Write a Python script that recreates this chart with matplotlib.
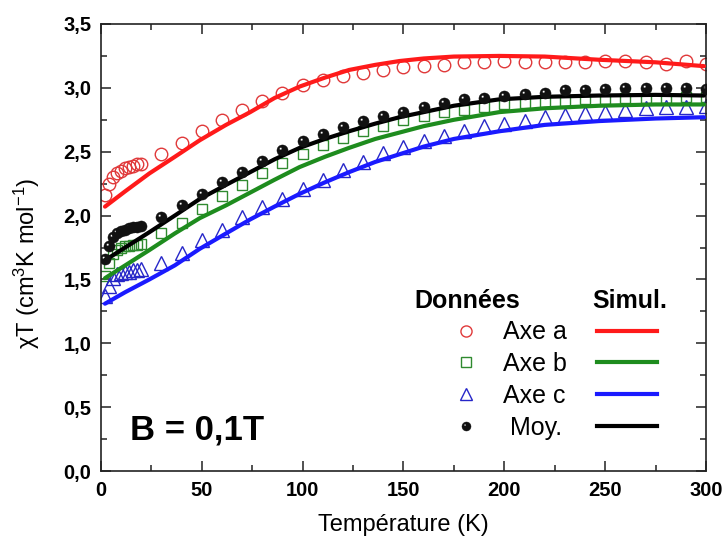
import numpy as np
import matplotlib
matplotlib.use("Agg")
import matplotlib.pyplot as plt
from matplotlib.lines import Line2D
from matplotlib.path import Path
from matplotlib.ticker import MultipleLocator, FuncFormatter

plt.rcParams['font.family'] = ['Liberation Sans', 'DejaVu Sans']
plt.rcParams['mathtext.fontset'] = 'custom'
plt.rcParams['mathtext.rm'] = 'Liberation Sans'
plt.rcParams['mathtext.it'] = 'Liberation Sans:italic'
plt.rcParams['mathtext.default'] = 'regular'

# ---------------- data ----------------
T_data = [2, 4, 6, 8, 10, 12, 14, 16, 18, 20,
          30, 40, 50, 60, 70, 80, 90, 100, 110, 120, 130, 140, 150, 160, 170, 180,
          190, 200, 210, 220, 230, 240, 250, 260, 270, 280, 290, 300]

axe_a = [2.16, 2.25, 2.30, 2.33, 2.35, 2.37, 2.38, 2.39, 2.40, 2.40,
         2.48, 2.57, 2.66, 2.75, 2.83, 2.90, 2.96, 3.02, 3.06, 3.09, 3.12, 3.14, 3.16, 3.17, 3.18, 3.20,
         3.20, 3.21, 3.20, 3.20, 3.20, 3.20, 3.21, 3.21, 3.20, 3.19, 3.21, 3.19]
axe_b = [1.53, 1.63, 1.70, 1.73, 1.75, 1.76, 1.76, 1.77, 1.77, 1.78,
         1.86, 1.94, 2.05, 2.15, 2.24, 2.33, 2.41, 2.48, 2.55, 2.61, 2.66, 2.70, 2.75, 2.78, 2.81, 2.83,
         2.85, 2.87, 2.88, 2.89, 2.90, 2.91, 2.91, 2.92, 2.92, 2.92, 2.93, 2.93]
axe_c = [1.37, 1.45, 1.51, 1.54, 1.55, 1.56, 1.56, 1.57, 1.57, 1.58,
         1.63, 1.71, 1.81, 1.89, 1.99, 2.07, 2.13, 2.21, 2.28, 2.36, 2.42, 2.49, 2.54, 2.58, 2.62, 2.66,
         2.70, 2.72, 2.74, 2.77, 2.79, 2.80, 2.81, 2.83, 2.84, 2.85, 2.85, 2.86]
moy = [1.66, 1.76, 1.83, 1.86, 1.88, 1.89, 1.90, 1.91, 1.91, 1.92,
       1.99, 2.08, 2.17, 2.26, 2.34, 2.43, 2.51, 2.58, 2.64, 2.69, 2.74, 2.78, 2.81, 2.85, 2.88, 2.91,
       2.92, 2.94, 2.95, 2.96, 2.98, 2.98, 2.99, 3.00, 3.00, 3.00, 3.00, 2.99]

T_sim = [2, 12, 24, 36.6, 49, 62, 74, 86, 98.5, 111, 123, 136, 148, 160, 175, 197.5, 220, 247, 275, 299]
sim_a = [2.07, 2.19, 2.33, 2.46, 2.59, 2.71, 2.81, 2.92, 3.01, 3.08, 3.14, 3.18, 3.21, 3.23, 3.245,
         3.25, 3.245, 3.22, 3.20, 3.17]
sim_b = [1.51, 1.61, 1.73, 1.86, 1.98, 2.08, 2.18, 2.28, 2.38, 2.46, 2.53, 2.60, 2.65, 2.70, 2.75,
         2.81, 2.84, 2.86, 2.87, 2.87]
sim_c = [1.31, 1.40, 1.50, 1.61, 1.74, 1.86, 1.97, 2.07, 2.17, 2.26, 2.34, 2.42, 2.48, 2.54, 2.60,
         2.66, 2.71, 2.74, 2.76, 2.77]
sim_moy = [1.65, 1.75, 1.87, 2.00, 2.13, 2.24, 2.34, 2.44, 2.53, 2.60, 2.66, 2.72, 2.77, 2.81, 2.86,
           2.91, 2.93, 2.94, 2.945, 2.94]

labels_data = ['Axe a', 'Axe b', 'Axe c', ' Moy.']

# ---------------- styles ----------------
c_red, c_green, c_blue, c_black = '#ff1a1a', '#1e8c1e', '#1a1aff', '#000000'
m_red, m_green, m_blue = '#e0393a', '#2f8a2f', '#2626c8'

# sphere marker (black disk with a small highlight hole)
th_o = np.linspace(0, 2 * np.pi, 60)
th_i = np.linspace(0, -2 * np.pi, 30)
outer = np.column_stack([np.cos(th_o), np.sin(th_o)])
inner = np.column_stack([-0.32 + 0.22 * np.cos(th_i), 0.32 + 0.22 * np.sin(th_i)])
verts = np.vstack([outer, outer[:1], inner, inner[:1]])
codes = ([Path.MOVETO] + [Path.LINETO] * (len(outer) - 1) + [Path.CLOSEPOLY] +
         [Path.MOVETO] + [Path.LINETO] * (len(inner) - 1) + [Path.CLOSEPOLY])
sphere = Path(verts, codes)

fig = plt.figure(figsize=(7.28, 5.38), dpi=100)
ax = fig.add_axes([0.1387, 0.1245, 0.8311, 0.8309])

ax.plot(T_data, axe_a, 'o', ms=9, mfc='none', mec=m_red, mew=1.0, zorder=2)
ax.plot(T_data, axe_b, 's', ms=7.5, mfc='none', mec=m_green, mew=1.0, zorder=2)
ax.plot(T_data, axe_c, '^', ms=10, mfc='none', mec=m_blue, mew=1.0, zorder=2)

ax.plot(T_sim, sim_a, '-', color=c_red, lw=3.0, zorder=3, solid_capstyle='round')
ax.plot(T_sim, sim_b, '-', color=c_green, lw=3.0, zorder=3, solid_capstyle='round')
ax.plot(T_sim, sim_c, '-', color=c_blue, lw=3.0, zorder=3, solid_capstyle='round')
ax.plot(T_sim, sim_moy, '-', color=c_black, lw=3.0, zorder=3, solid_capstyle='round')

ax.plot(T_data, moy, ls='none', marker=sphere, ms=8, mfc='#111111', mec='#111111', mew=0.3, zorder=4)

ax.set_xlim(0, 300)
ax.set_ylim(0, 3.5)
ax.xaxis.set_major_locator(MultipleLocator(50))
ax.xaxis.set_minor_locator(MultipleLocator(25))
ax.yaxis.set_major_locator(MultipleLocator(0.5))
ax.yaxis.set_minor_locator(MultipleLocator(0.25))
ax.yaxis.set_major_formatter(FuncFormatter(lambda v, p: f'{v:.1f}'.replace('.', ',')))
ax.xaxis.set_major_formatter(FuncFormatter(lambda v, p: f'{v:.0f}'))

ax.tick_params(which='both', direction='in', top=True, right=True, width=1.1, color='#222222')
ax.tick_params(which='major', length=7, pad=7, labelsize=14.5)
ax.tick_params(which='minor', length=4)
for lab in ax.get_xticklabels() + ax.get_yticklabels():
    lab.set_fontweight('bold')
for s in ax.spines.values():
    s.set_linewidth(1.2)
    s.set_color('#222222')

ax.set_xlabel('Température (K)', fontsize=17, labelpad=10)
ax.set_ylabel('χT (cm$^{3}$K mol$^{-1}$)', fontsize=17)
ax.yaxis.set_label_coords(-0.097, 0.465)

# legend
h = [Line2D([], [], ls='none', marker='o', ms=8, mfc='none', mec=m_red, mew=1.0),
     Line2D([], [], ls='none', marker='s', ms=6.5, mfc='none', mec=m_green, mew=1.0),
     Line2D([], [], ls='none', marker='^', ms=9, mfc='none', mec=m_blue, mew=1.0),
     Line2D([], [], ls='none', marker=sphere, ms=6.5, mfc='#111111', mec='#111111', mew=0.3),
     Line2D([], [], color=c_red, lw=3.0),
     Line2D([], [], color=c_green, lw=3.0),
     Line2D([], [], color=c_blue, lw=3.0),
     Line2D([], [], color=c_black, lw=3.0)]
leg = ax.legend(h, labels_data + ['', '', '', ''], ncol=2, frameon=False,
                loc='upper left', bbox_to_anchor=(0.554, 0.337), borderpad=0, borderaxespad=0,
                handlelength=2.4, handletextpad=0.28, columnspacing=1.2, labelspacing=0.31,
                fontsize=18, numpoints=1)

ax.text(0.605, 0.381, 'Données', transform=ax.transAxes, ha='center', va='center',
        fontsize=18, fontweight='bold')
ax.text(0.874, 0.381, 'Simul.', transform=ax.transAxes, ha='center', va='center',
        fontsize=18, fontweight='bold')
ax.text(0.048, 0.092, 'B = 0,1T', transform=ax.transAxes, ha='left', va='center',
        fontsize=25, fontweight='bold')

fig.savefig('out.png', dpi=100)
